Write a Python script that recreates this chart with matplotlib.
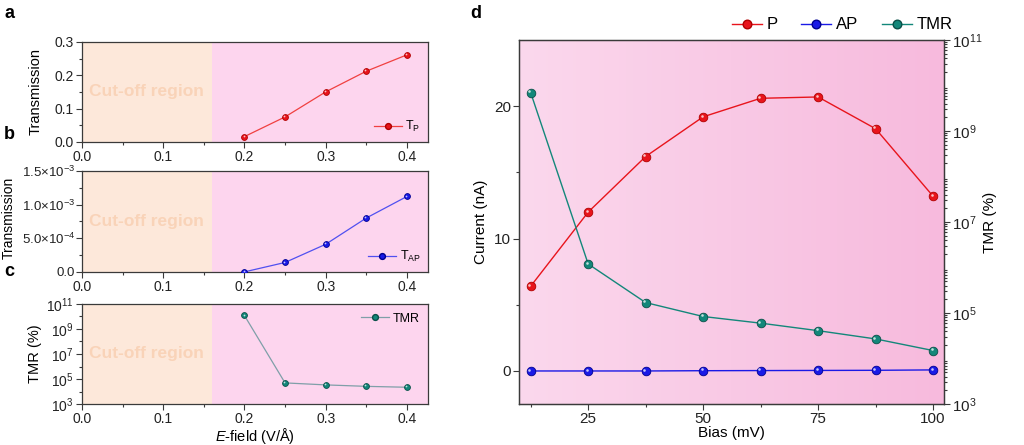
import numpy as np
import matplotlib
matplotlib.use('Agg')
from matplotlib import pyplot as plt
from matplotlib import transforms
from matplotlib.ticker import FixedLocator, FuncFormatter, LogLocator, NullFormatter

plt.rcParams['font.family'] = ['Liberation Sans', 'DejaVu Sans']
plt.rcParams['axes.unicode_minus'] = False
plt.rcParams['mathtext.fontset'] = 'custom'
plt.rcParams['mathtext.rm'] = 'Liberation Sans'
plt.rcParams['mathtext.it'] = 'Liberation Sans:italic'

# data, panels a-c
efield = [0.20, 0.25, 0.30, 0.35, 0.40]
trans_p = [0.016, 0.075, 0.150, 0.212, 0.261]
trans_ap = [0.0, 0.14e-3, 0.41e-3, 0.80e-3, 1.12e-3]
tmr_e = [1.2e10, 4.9e4, 3.4e4, 2.6e4, 2.2e4]
cutoff = 0.16

# data, panel d
bias = [12.5, 25, 37.5, 50, 62.5, 75, 87.5, 100]
cur_p = [6.4, 12.0, 16.2, 19.2, 20.6, 20.7, 18.3, 13.2]
cur_ap = [0.0, 0.0, 0.0, 0.02, 0.03, 0.04, 0.05, 0.08]
tmr_b = [7e9, 1.2e6, 1.7e5, 8.4e4, 6e4, 4.1e4, 2.7e4, 1.5e4]

RED = '#e8141c'
BLUE = '#1a1ae6'
TEAL = '#13877a'
PEACH = '#fde8da'
PINK = '#fdd5ee'
SPINE = '#3a3a3a'

fig = plt.figure(figsize=(10.24, 4.45), dpi=100)


def style(ax, size=10):
    for s in ax.spines.values():
        s.set_color(SPINE)
        s.set_linewidth(0.9)
    ax.tick_params(which='both', direction='out', colors=SPINE, labelcolor='#222222',
                   labelsize=size, width=0.8, pad=2)
    ax.tick_params(which='major', length=4)
    ax.tick_params(which='minor', length=2.2)


def ball(ax, x, y, color, edge, lc, ms, lw=0.9, label=None):
    ax.plot(x, y, '-', color=lc, lw=lw, zorder=3)
    ax.plot(x, y, 'o', color=color, mec=edge, mew=0.6, ms=ms, zorder=4)
    off = transforms.offset_copy(ax.transData, fig=fig, x=-ms * 0.15, y=ms * 0.15, units='points')
    ax.plot(x, y, 'o', color='white', alpha=0.75, ms=ms * 0.3, mew=0, transform=off, zorder=5)
    # legend proxy
    return ax.plot([], [], '-o', color=lc, mfc=color, mec=edge, ms=ms, lw=lw, label=label)[0]


def efield_panel(rect):
    ax = fig.add_axes(rect)
    ax.axvspan(0, cutoff, color=PEACH, zorder=0, lw=0)
    ax.axvspan(cutoff, 0.426, color=PINK, zorder=0, lw=0)
    ax.set_xlim(0, 0.426)
    ax.set_xticks([0.0, 0.1, 0.2, 0.3, 0.4])
    ax.xaxis.set_minor_locator(FixedLocator([0.05, 0.15, 0.25, 0.35]))
    ax.xaxis.set_major_formatter(FuncFormatter(lambda v, p: f'{v:.1f}'))
    ax.text(0.08, 0.5, 'Cut-off region', transform=ax.get_xaxis_transform(),
            ha='center', va='center', fontsize=12.5, fontweight='bold', color='#f9d3b8')
    style(ax)
    return ax


# panel a
ax_a = efield_panel([0.080, 0.681, 0.338, 0.225])
h = ball(ax_a, efield, trans_p, RED, '#b00000', '#f04040', 4.2, label=r'T$_\mathrm{P}$')
ax_a.set_ylim(0, 0.3)
ax_a.set_yticks([0, 0.1, 0.2, 0.3])
ax_a.yaxis.set_minor_locator(FixedLocator([0.05, 0.15, 0.25]))
ax_a.yaxis.set_major_formatter(FuncFormatter(lambda v, p: f'{v:.1f}'))
ax_a.set_ylabel('Transmission', fontsize=10.5)
ax_a.yaxis.set_label_coords(-0.113, 0.5)
ax_a.legend(handles=[h], loc='lower right', frameon=False, fontsize=9, handlelength=2.2,
            borderaxespad=0.2, handletextpad=0.3)

# panel b
ax_b = efield_panel([0.080, 0.389, 0.338, 0.227])
h = ball(ax_b, efield, trans_ap, BLUE, '#000090', '#5050f0', 4.2, label=r'T$_\mathrm{AP}$')
ax_b.set_ylim(0, 1.5e-3)
ax_b.set_yticks([0, 0.5e-3, 1.0e-3, 1.5e-3])
ax_b.yaxis.set_minor_locator(FixedLocator([0.25e-3, 0.75e-3, 1.25e-3]))
b_labels = {0: '0.0', 1: r'5.0$\times$10$^{-4}$', 2: r'1.0$\times$10$^{-3}$', 3: r'1.5$\times$10$^{-3}$'}
ax_b.yaxis.set_major_formatter(FuncFormatter(lambda v, p: b_labels.get(p, '')))
ax_b.tick_params(axis='y', labelsize=9.5, pad=1)
ax_b.set_ylabel('Transmission', fontsize=10)
ax_b.yaxis.set_label_coords(-0.19, 0.53)
ax_b.legend(handles=[h], loc='lower right', frameon=False, fontsize=9, handlelength=2.2,
            borderaxespad=0.2, handletextpad=0.3)

# panel c
ax_c = efield_panel([0.080, 0.092, 0.338, 0.225])
h = ball(ax_c, efield, tmr_e, TEAL, '#0a5048', '#7f9fa8', 4.2, label='TMR')
ax_c.set_yscale('log')
ax_c.set_ylim(1e3, 1e11)
ax_c.yaxis.set_major_locator(FixedLocator([1e3, 1e5, 1e7, 1e9, 1e11]))
ax_c.yaxis.set_minor_locator(FixedLocator([10.0 ** k for k in range(4, 11, 2)]))
ax_c.yaxis.set_minor_formatter(NullFormatter())
ax_c.yaxis.set_major_formatter(FuncFormatter(lambda v, p: r'10$^{%d}$' % round(np.log10(v))))
ax_c.set_ylabel('TMR (%)', fontsize=10.5)
ax_c.yaxis.set_label_coords(-0.116, 0.5)
ax_c.set_xlabel(r'$\mathit{E}$-field (V/Å)', fontsize=10.5, labelpad=0)
ax_c.legend(handles=[h], loc='upper right', frameon=False, fontsize=9, handlelength=2.2,
            borderaxespad=0.3, handletextpad=0.3)

# panel d
ax_d = fig.add_axes([0.507, 0.092, 0.415, 0.818])
grad = np.linspace(0, 1, 256).reshape(1, -1)
cmap = matplotlib.colors.LinearSegmentedColormap.from_list('pk', ['#fbd8ed', '#f7badd'])
ax_d.imshow(grad, aspect='auto', cmap=cmap, extent=[0, 1, 0, 1],
            transform=ax_d.transAxes, zorder=0)
h1 = ball(ax_d, bias, cur_p, RED, '#b00000', RED, 6.2, lw=1.0, label='P')
h2 = ball(ax_d, bias, cur_ap, BLUE, '#000090', BLUE, 6.2, lw=1.0, label='AP')
ax_d.set_xlim(10, 102.4)
ax_d.set_ylim(-2.5, 25)
ax_d.set_xticks([25, 50, 75, 100])
ax_d.xaxis.set_minor_locator(FixedLocator([12.5, 37.5, 62.5, 87.5]))
ax_d.set_yticks([0, 10, 20])
ax_d.yaxis.set_minor_locator(FixedLocator([5, 15]))
ax_d.set_xlabel('Bias (mV)', fontsize=11, labelpad=0)
ax_d.set_ylabel('Current (nA)', fontsize=11)
ax_d.yaxis.set_label_coords(-0.073, 0.5)
style(ax_d, size=11)

ax_t = ax_d.twinx()
h3 = ball(ax_t, bias, tmr_b, TEAL, '#0a5048', TEAL, 6.2, lw=1.0, label='TMR')
ax_t.set_yscale('log')
ax_t.set_ylim(1e3, 1e11)
ax_t.yaxis.set_major_locator(FixedLocator([1e3, 1e5, 1e7, 1e9, 1e11]))
ax_t.yaxis.set_minor_locator(LogLocator(base=10, subs=np.arange(2, 10), numticks=20))
ax_t.yaxis.set_minor_formatter(NullFormatter())
ax_t.yaxis.set_major_formatter(FuncFormatter(lambda v, p: r'10$^{%d}$' % round(np.log10(v))))
ax_t.set_ylabel('TMR (%)', fontsize=11)
ax_t.yaxis.set_label_coords(1.092, 0.5)
style(ax_t, size=11)
ax_t.set_xlim(10, 102.4)

fig.legend(handles=[h1, h2, h3], loc='center right', bbox_to_anchor=(0.945, 0.944),
           ncol=3, frameon=False, fontsize=12, handlelength=1.8, handletextpad=0.3,
           columnspacing=1.4)

for x, y, s in [(0.004, 0.97, 'a'), (0.004, 0.697, 'b'), (0.004, 0.391, 'c'), (0.459, 0.97, 'd')]:
    fig.text(x, y, s, fontsize=13, fontweight='bold', va='center')

fig.savefig('out.png', dpi=100)
